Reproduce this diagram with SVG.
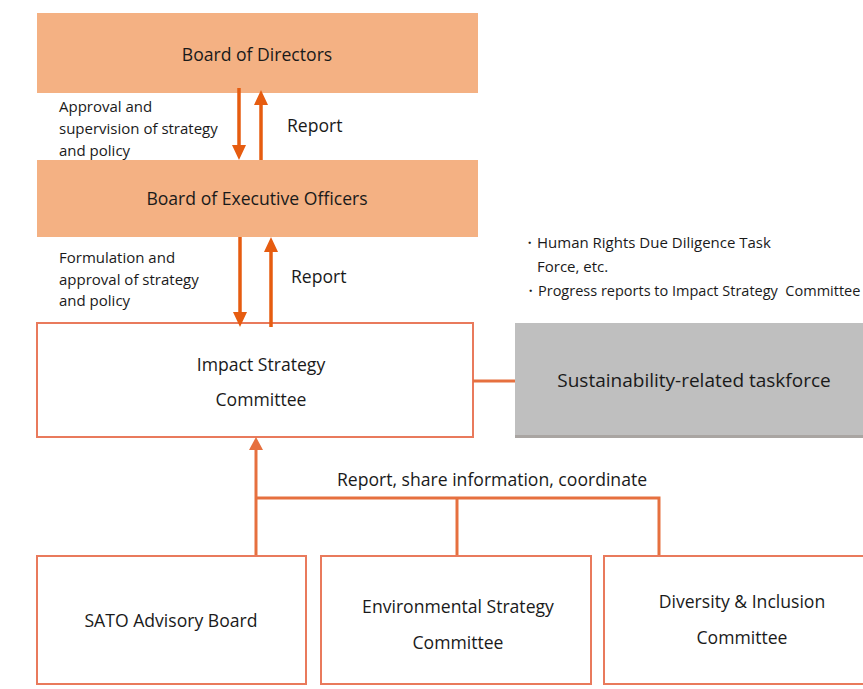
<svg xmlns="http://www.w3.org/2000/svg" width="863" height="689" viewBox="0 0 863 689">
<defs>
<style>
.t{font-family:"Open Sans","Noto Sans","Liberation Sans",sans-serif;fill:#1a1a1a}
.big{font-size:17.6px}
.sm{font-size:15px}
.xl{font-size:19px}
.board{fill:#F4B183}
.box{fill:#ffffff;stroke:#E97A5C;stroke-width:2}
.arr{stroke:#E65C10;stroke-width:3.5;fill:none}
.con{stroke:#E6703F;stroke-width:3;fill:none}
</style>
<marker id="ah" markerUnits="userSpaceOnUse" markerWidth="16" markerHeight="16" refX="0" refY="7" orient="auto" viewBox="0 0 16 14">
<path d="M0,0 L15,7 L0,14 z" fill="#E65C10"/>
</marker>
<marker id="ah2" markerUnits="userSpaceOnUse" markerWidth="13" markerHeight="14" refX="0" refY="7" orient="auto" viewBox="0 0 13 14">
<path d="M0,0 L13,7 L0,14 z" fill="#E6703F"/>
</marker>
</defs>
<rect width="863" height="689" fill="#ffffff"/>

<g id="board-of-directors">
<rect class="board" x="37" y="13" width="441" height="80"/>
<text class="t big" x="257" y="61" text-anchor="middle">Board of Directors</text>
</g>

<g id="board-of-executive-officers">
<rect class="board" x="37" y="160" width="441" height="77"/>
<text class="t big" x="257" y="205" text-anchor="middle">Board of Executive Officers</text>
</g>

<g id="impact-strategy-committee">
<rect class="box" x="37" y="323" width="436" height="114"/>
<text class="t big" x="261" y="371" text-anchor="middle">Impact Strategy</text>
<text class="t big" x="261" y="406" text-anchor="middle">Committee</text>
</g>

<g id="sustainability-taskforce">
<rect x="515" y="325" width="348" height="113" fill="#A9A5A2"/>
<rect x="515" y="323" width="348" height="112" fill="#BFBFBF"/>
<text class="t xl" x="694" y="387" text-anchor="middle">Sustainability-related taskforce</text>
</g>

<g id="taskforce-notes">
<text class="t sm" x="522" y="248">・Human Rights Due Diligence Task</text>
<text class="t sm" x="537" y="272">Force, etc.</text>
<text class="t" font-size="14.5" x="523" y="296" xml:space="preserve">・Progress reports to Impact Strategy  Committee</text>
</g>

<g id="sato-advisory-board">
<rect class="box" x="37" y="556" width="269" height="128"/>
<text class="t big" x="171" y="627" text-anchor="middle">SATO Advisory Board</text>
</g>

<g id="environmental-strategy-committee">
<rect class="box" x="321" y="556" width="270" height="128"/>
<text class="t big" x="458" y="613" text-anchor="middle">Environmental Strategy</text>
<text class="t big" x="458" y="649" text-anchor="middle">Committee</text>
</g>

<g id="diversity-inclusion-committee">
<rect class="box" x="604" y="556" width="262" height="128"/>
<text class="t big" x="742" y="608" text-anchor="middle">Diversity &amp; Inclusion</text>
<text class="t big" x="742" y="644" text-anchor="middle">Committee</text>
</g>

<g id="connectors">
<line class="arr" x1="239" y1="88" x2="239" y2="145" marker-end="url(#ah)"/>
<line class="arr" x1="261" y1="160" x2="261" y2="105" marker-end="url(#ah)"/>
<line class="arr" x1="240" y1="237" x2="240" y2="312" marker-end="url(#ah)"/>
<line class="arr" x1="271" y1="327" x2="271" y2="252" marker-end="url(#ah)"/>
<line class="con" x1="473" y1="381" x2="515" y2="381"/>
<line class="con" x1="256" y1="555" x2="256" y2="450" marker-end="url(#ah2)"/>
<polyline class="con" points="256,498 659,498 659,555"/>
<line class="con" x1="457" y1="498" x2="457" y2="555"/>
</g>

<g id="labels">
<text class="t sm" x="59" y="112">Approval and</text>
<text class="t sm" x="59" y="134">supervision of strategy</text>
<text class="t sm" x="59" y="156">and policy</text>
<text class="t big" x="287" y="132">Report</text>
<text class="t sm" x="59" y="263">Formulation and</text>
<text class="t sm" x="59" y="285">approval of strategy</text>
<text class="t sm" x="59" y="306">and policy</text>
<text class="t big" x="291" y="283">Report</text>
<text class="t big" x="492" y="486" text-anchor="middle">Report, share information, coordinate</text>
</g>
</svg>
